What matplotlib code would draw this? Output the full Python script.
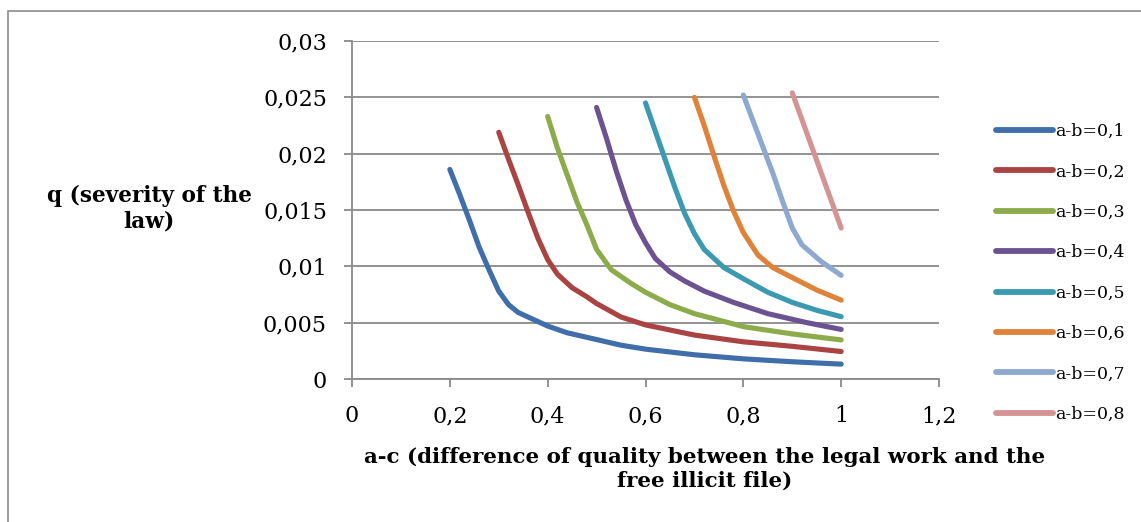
import matplotlib
matplotlib.use("Agg")
import matplotlib.pyplot as plt
from matplotlib.patches import Rectangle
from matplotlib.ticker import FuncFormatter

# ---- data ----
x_01 = [0.20, 0.22, 0.24, 0.26, 0.28, 0.30, 0.32, 0.34, 0.36, 0.38, 0.40, 0.44, 0.48,
        0.52, 0.55, 0.60, 0.70, 0.80, 0.90, 1.00]
q_01 = [0.0186, 0.0164, 0.0141, 0.0117, 0.0097, 0.0078, 0.0066, 0.0059, 0.0055, 0.0051,
        0.0047, 0.0041, 0.0037, 0.0033, 0.0030, 0.00265, 0.00215, 0.00179, 0.00153, 0.00132]

x_02 = [0.30, 0.32, 0.34, 0.36, 0.38, 0.40, 0.42, 0.45, 0.48, 0.50, 0.55, 0.60,
        0.70, 0.80, 0.90, 1.00]
q_02 = [0.0219, 0.0195, 0.0172, 0.0148, 0.0125, 0.0106, 0.0093, 0.0081, 0.0073, 0.0067,
        0.0055, 0.0048, 0.0039, 0.0033, 0.0029, 0.00244]

x_03 = [0.40, 0.42, 0.44, 0.46, 0.48, 0.50, 0.53, 0.57, 0.60, 0.65, 0.70, 0.80, 0.90, 1.00]
q_03 = [0.0233, 0.0205, 0.0181, 0.0157, 0.0137, 0.0115, 0.0097, 0.0085, 0.0077, 0.0066,
        0.0058, 0.00465, 0.0040, 0.00347]

x_04 = [0.50, 0.52, 0.54, 0.56, 0.58, 0.60, 0.62, 0.65, 0.68, 0.72, 0.78, 0.85, 0.93, 1.00]
q_04 = [0.0241, 0.0214, 0.0185, 0.0159, 0.0137, 0.0121, 0.0107, 0.0095, 0.0087, 0.0078,
        0.0068, 0.0058, 0.0050, 0.0044]

x_05 = [0.60, 0.62, 0.64, 0.66, 0.68, 0.70, 0.72, 0.76, 0.80, 0.85, 0.90, 0.95, 1.00]
q_05 = [0.0245, 0.0220, 0.0195, 0.0170, 0.0147, 0.0129, 0.0115, 0.0099, 0.0089, 0.0077,
        0.0068, 0.0061, 0.00553]

x_06 = [0.70, 0.72, 0.74, 0.76, 0.78, 0.80, 0.83, 0.86, 0.90, 0.95, 1.00]
q_06 = [0.0250, 0.0225, 0.0198, 0.0172, 0.0149, 0.0130, 0.0110, 0.0099, 0.0090, 0.0079, 0.0070]

x_07 = [0.80, 0.82, 0.84, 0.86, 0.88, 0.90, 0.92, 0.96, 1.00]
q_07 = [0.0252, 0.0229, 0.0206, 0.0183, 0.0158, 0.0134, 0.0119, 0.0104, 0.0092]

x_08 = [0.90, 0.95, 1.00]
q_08 = [0.0254, 0.0194, 0.0134]

labels = ["a-b=0,1", "a-b=0,2", "a-b=0,3", "a-b=0,4",
          "a-b=0,5", "a-b=0,6", "a-b=0,7", "a-b=0,8"]
colors = ["#3F6EAA", "#AA4443", "#8CAC4C", "#6B5391",
          "#3B99B1", "#E0833A", "#8EA9D0", "#D49494"]

xticks = [0, 0.2, 0.4, 0.6, 0.8, 1.0, 1.2]
yticks = [0, 0.005, 0.01, 0.015, 0.02, 0.025, 0.03]

series = [(x_01, q_01), (x_02, q_02), (x_03, q_03), (x_04, q_04),
          (x_05, q_05), (x_06, q_06), (x_07, q_07), (x_08, q_08)]

# ---- figure ----
W, H = 1141, 522
fig = plt.figure(figsize=(W / 100, H / 100), dpi=100)
font = "DejaVu Serif"

# outer chart border (only left and top edges visible in the reference)
top_y = 1 - 11 / H
fig.patches.append(Rectangle((8 / W, -0.5), 1.5, top_y + 0.5, transform=fig.transFigure,
                             fill=False, edgecolor="#8C8C8C", linewidth=1.2))

left, right, top, bottom = 352, 939, 41, 379
ax = fig.add_axes([left / W, 1 - bottom / H, (right - left) / W, (bottom - top) / H])

for (xs, qs), lab, c in zip(series, labels, colors):
    ax.plot(xs, qs, color=c, lw=3.7, label=lab, solid_capstyle="round",
            solid_joinstyle="round")

ax.set_xlim(0, 1.2)
ax.set_ylim(0, 0.03)
ax.set_xticks(xticks)
ax.set_yticks(yticks)


def fmt(v, pos):
    if abs(v) < 1e-12:
        return "0"
    s = ("%.3f" % v).rstrip("0").rstrip(".")
    return s.replace(".", ",")


ax.xaxis.set_major_formatter(FuncFormatter(fmt))
ax.yaxis.set_major_formatter(FuncFormatter(fmt))

ax.grid(axis="y", color="#8A8A8A", lw=1.3)
ax.set_axisbelow(True)
for s in ["top", "right"]:
    ax.spines[s].set_visible(False)
for s in ["left", "bottom"]:
    ax.spines[s].set_color("#8A8A8A")
    ax.spines[s].set_linewidth(1.3)
ax.tick_params(axis="both", direction="out", length=6, width=1.3, color="#8A8A8A",
               labelsize=16)
ax.tick_params(axis="y", pad=12)
ax.tick_params(axis="x", pad=13)
for lbl in ax.get_xticklabels() + ax.get_yticklabels():
    lbl.set_fontfamily(font)

# axis titles
fig.text(705 / W, 1 - 469 / H,
         "a-c (difference of quality between the legal work and the\nfree illicit file)",
         ha="center", va="center", fontsize=15.4, fontweight="bold", family=font,
         linespacing=1.25)
fig.text(149 / W, 1 - 209 / H, "q (severity of the\nlaw)", ha="center", va="center",
         fontsize=15.6, fontweight="bold", family=font, linespacing=1.2)

# legend
leg = fig.legend(loc="upper left", bbox_to_anchor=(989 / W, 1 - 116 / H),
                 frameon=False, prop={"family": font, "size": 12.5},
                 handlelength=3.3, handletextpad=0.1, labelspacing=1.35,
                 borderaxespad=0)
for h in leg.get_lines():
    h.set_linewidth(4.2)

fig.savefig("out.png", dpi=100)
